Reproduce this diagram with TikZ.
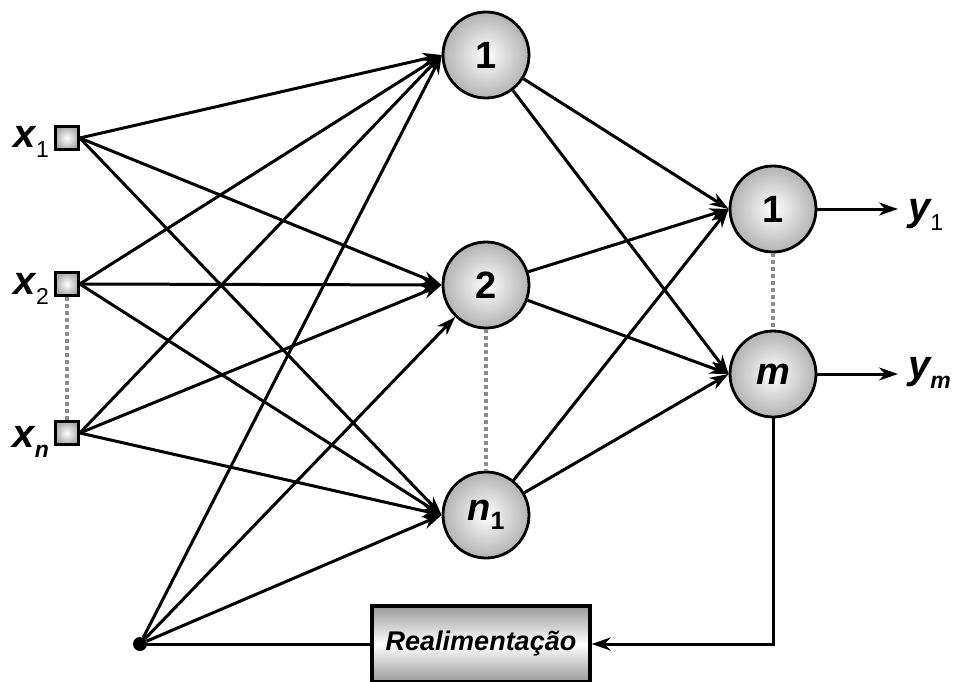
\documentclass[tikz,border=0pt]{standalone}
\usepackage{fontspec}
\setmainfont{Liberation Sans}
\usetikzlibrary{arrows.meta}
\tikzset{
  neuron/.style={circle, draw=black, line width=2.8pt, minimum size=86pt, inner sep=0pt,
    inner color=white, outer color=gray!60, font=\fontsize{38}{38}\selectfont\bfseries},
  inbox/.style={rectangle, draw=black, line width=2.6pt, minimum size=23pt, inner sep=0pt,
    inner color=white, outer color=gray!65},
  conn/.style={line width=3pt, -{Stealth[length=19pt,width=13pt,inset=6pt]}},
  plain/.style={line width=3pt},
  dots/.style={draw=gray!90, line width=4pt, dash pattern=on 4pt off 3pt},
  lab/.style={anchor=base east, inner sep=0pt, font=\fontsize{40}{40}\selectfont},
  rlab/.style={anchor=base west, inner sep=0pt, font=\fontsize{40}{40}\selectfont},
  fbbox/.style={rectangle, draw=black, line width=3.2pt, minimum width=218pt, minimum height=76pt,
    inner sep=0pt, top color=gray!80, bottom color=gray!80, middle color=white,
    font=\fontsize{27}{27}\selectfont\bfseries\itshape}
}
\newcommand{\varsub}[2]{{\bfseries\itshape #1}\raisebox{-10pt}{\fontsize{23}{23}\selectfont #2}}
\begin{document}
\begin{tikzpicture}[x=1pt,y=-1pt]
\useasboundingbox (0,0) rectangle (955,682);
% inputs
\node[inbox] (x1) at (67,138) {};
\node[inbox] (x2) at (67,284) {};
\node[inbox] (xn) at (67,433) {};
\node[lab] (lx1) at (49,147) {\varsub{x}{1}};
\node[lab] (lx2) at (49,294) {\varsub{x}{2}};
\node[lab] (lxn) at (49,447) {\varsub{x}{\bfseries\itshape n}};
% hidden
\node[neuron] (h1) at (486,55) {1};
\node[neuron] (h2) at (486,285) {2};
\node[neuron] (hn) at (486,515) {\itshape n\raisebox{-9pt}{\fontsize{25}{25}\selectfont\upshape 1}};
% outputs
\node[neuron] (o1) at (773,209) {1};
\node[neuron] (om) at (773,374) {\itshape m};
% bias and feedback
\node[circle, fill=black, inner sep=0pt, minimum size=14pt] (b) at (140,644) {};
\node[fbbox] (fb) at (481,644) {Realimentação};
% dotted
\draw[dots] (x2.south) -- (xn.north);
\draw[dots] (h2.south) -- (hn.north);
\draw[dots] (o1.south) -- (om.north);
% input connections
\foreach \i in {x1,x2,xn}{
  \draw[conn] (\i.east) -- (h1.west);
  \draw[conn] (\i.east) -- (h2.west);
  \draw[conn] (\i.east) -- (hn.west);
}
\draw[conn] (b) -- (h1.west);
\draw[conn] (b) -- (h2);
\draw[conn] (b) -- (hn.west);
\draw[plain] (b) -- (fb.west);
% hidden to output
\foreach \h in {h1,h2,hn}{
  \draw[conn] (\h) -- (o1.west);
  \draw[conn] (\h) -- (om.west);
}
% outputs
\coordinate (e1) at (898,209);
\coordinate (em) at (898,374);
\draw[conn] (o1.east) -- (e1);
\draw[conn] (om.east) -- (em);
\node[rlab] (ly1) at (908,220) {\varsub{y}{1}};
\node[rlab] (lym) at (908,378) {\varsub{y}{\bfseries\itshape m}};
% feedback
\draw[conn] (om.south) |- (fb.east);
\end{tikzpicture}
\end{document}
